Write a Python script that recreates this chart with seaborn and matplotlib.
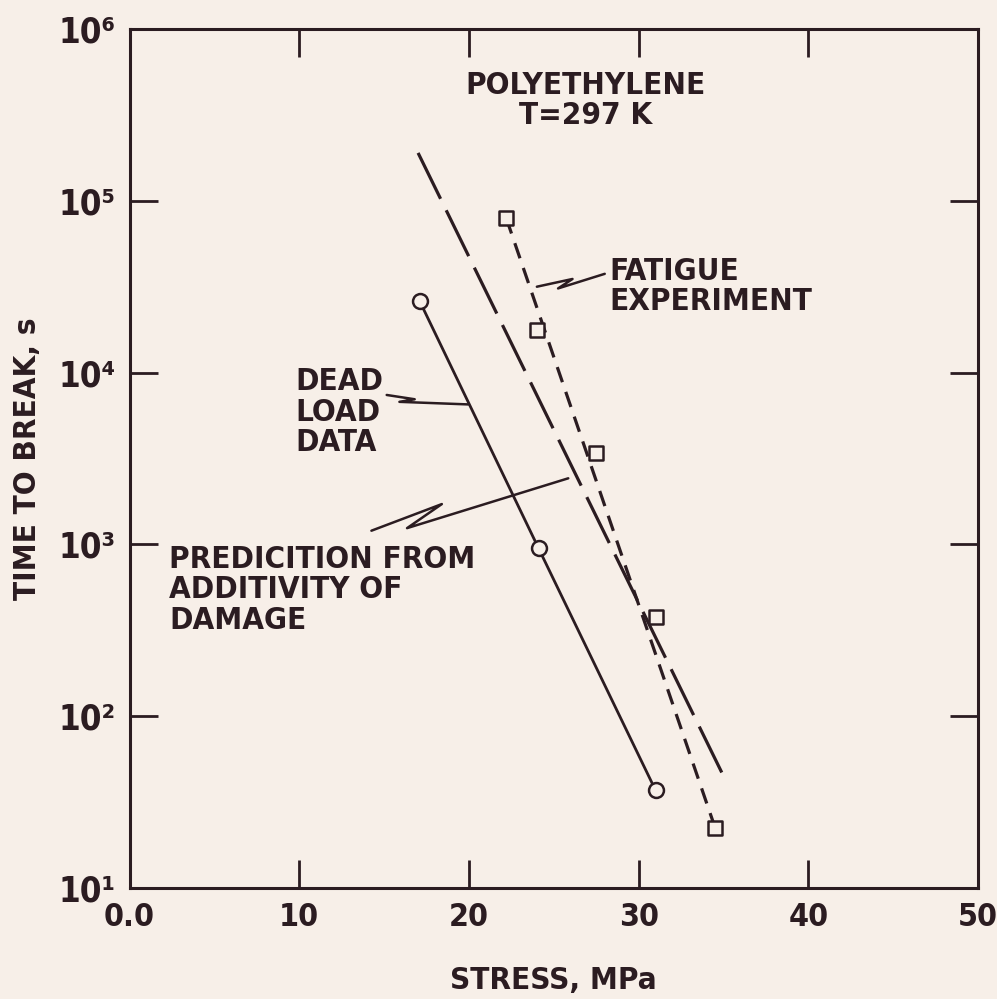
import matplotlib
matplotlib.use("Agg")
import matplotlib.pyplot as plt
import seaborn as sns
import pandas as pd
import numpy as np
from matplotlib.ticker import FixedLocator, FixedFormatter, NullLocator

# ---------------- data ----------------
dead_stress = [17.1, 24.1, 31.0]
dead_time = [2.6e4, 9.5e2, 37]

fatigue_stress = [22.2, 24.0, 27.5, 31.0, 34.5]
fatigue_time = [7.9e4, 1.77e4, 3.4e3, 3.8e2, 22.5]

pred_stress = [17.0, 34.9]
pred_time = [1.9e5, 47]

fit_stress = [22.2, 34.5]
fit_time = [7.9e4, 22.5]

x_ticks = [0, 10, 20, 30, 40, 50]
x_ticklabels = ["0.0", "10", "20", "30", "40", "50"]
y_ticks = [1e1, 1e2, 1e3, 1e4, 1e5, 1e6]
y_ticklabels = ["10\u00b9", "10\u00b2", "10\u00b3", "10\u2074", "10\u2075", "10\u2076"]

INK = "#2b1c21"
BG = "#f7efe8"

sns.set_theme(style="white")
plt.rcParams['font.family'] = ['DejaVu Sans']
plt.rcParams['font.stretch'] = 'condensed'
plt.rcParams['font.weight'] = 'bold'

fig = plt.figure(figsize=(9.97, 9.99), dpi=100, facecolor=BG)
ax = fig.add_axes([0.130, 0.111, 0.851, 0.860])
ax.set_facecolor(BG)

df_dead = pd.DataFrame({"stress": dead_stress, "time": dead_time})
df_fat = pd.DataFrame({"stress": fatigue_stress, "time": fatigue_time})
df_pred = pd.DataFrame({"stress": pred_stress, "time": pred_time})
df_fit = pd.DataFrame({"stress": fit_stress, "time": fit_time})

sns.lineplot(data=df_dead, x="stress", y="time", ax=ax, color=INK, lw=2.0, zorder=2)
sns.lineplot(data=df_pred, x="stress", y="time", ax=ax, color=INK, lw=2.3, zorder=2)
ax.lines[-1].set_dashes((16, 4))
sns.lineplot(data=df_fit, x="stress", y="time", ax=ax, color=INK, lw=2.3, zorder=2)
ax.lines[-1].set_dashes((5, 3.2))
sns.scatterplot(data=df_dead, x="stress", y="time", ax=ax, marker="o", s=115,
                facecolor=BG, edgecolor=INK, linewidth=1.8, zorder=3)
sns.scatterplot(data=df_fat, x="stress", y="time", ax=ax, marker="s", s=90,
                facecolor=BG, edgecolor=INK, linewidth=1.8, zorder=3)

ax.set_yscale("log")
ax.set_xlim(0, 50)
ax.set_ylim(1e1, 1e6)
ax.xaxis.set_major_locator(FixedLocator(x_ticks))
ax.xaxis.set_major_formatter(FixedFormatter(x_ticklabels))
ax.yaxis.set_major_locator(FixedLocator(y_ticks))
ax.yaxis.set_major_formatter(FixedFormatter(y_ticklabels))
ax.yaxis.set_minor_locator(NullLocator())
ax.xaxis.set_minor_locator(NullLocator())
ax.tick_params(axis="both", which="major", direction="in", length=20, width=2,
               color=INK, top=True, right=True, bottom=True, left=True,
               labelsize=23, labelcolor=INK, pad=10)
for lab in ax.get_xticklabels() + ax.get_yticklabels():
    lab.set_fontweight("bold")
    lab.set_fontstretch("condensed")
for lab in ax.get_yticklabels():
    lab.set_fontsize(25)
for s in ax.spines.values():
    s.set_color(INK)
    s.set_linewidth(2.2)

ax.set_xlabel("STRESS, MPa", fontsize=22.5, fontweight="bold", color=INK, labelpad=24,
              fontstretch="condensed")
ax.set_ylabel("TIME TO BREAK, s", fontsize=22.5, fontweight="bold", color=INK, labelpad=12,
              fontstretch="condensed")

tk = dict(transform=ax.transAxes, fontsize=22.5, fontweight="bold", color=INK,
          linespacing=1.05, fontstretch="condensed")
ax.text(0.537, 0.917, "POLYETHYLENE\nT=297 K", ha="center", va="center", **tk)
ax.text(0.566, 0.700, "FATIGUE\nEXPERIMENT", ha="left", va="center", **tk)
ax.text(0.195, 0.554, "DEAD\nLOAD\nDATA", ha="left", va="center", **tk)
ax.text(0.047, 0.347, "PREDICITION FROM\nADDITIVITY OF\nDAMAGE", ha="left", va="center", **tk)

# leader lines with zigzag
leaders = [
    ([0.480, 0.522, 0.505, 0.560], [0.700, 0.709, 0.698, 0.715]),
    ([0.303, 0.336, 0.318, 0.399], [0.574, 0.569, 0.566, 0.563]),
    ([0.285, 0.368, 0.327, 0.517], [0.416, 0.447, 0.419, 0.477]),
]
for lx, ly in leaders:
    ax.plot(lx, ly, transform=ax.transAxes, color=INK, lw=1.8, zorder=2)

fig.savefig("out.png", dpi=100, facecolor=BG)
